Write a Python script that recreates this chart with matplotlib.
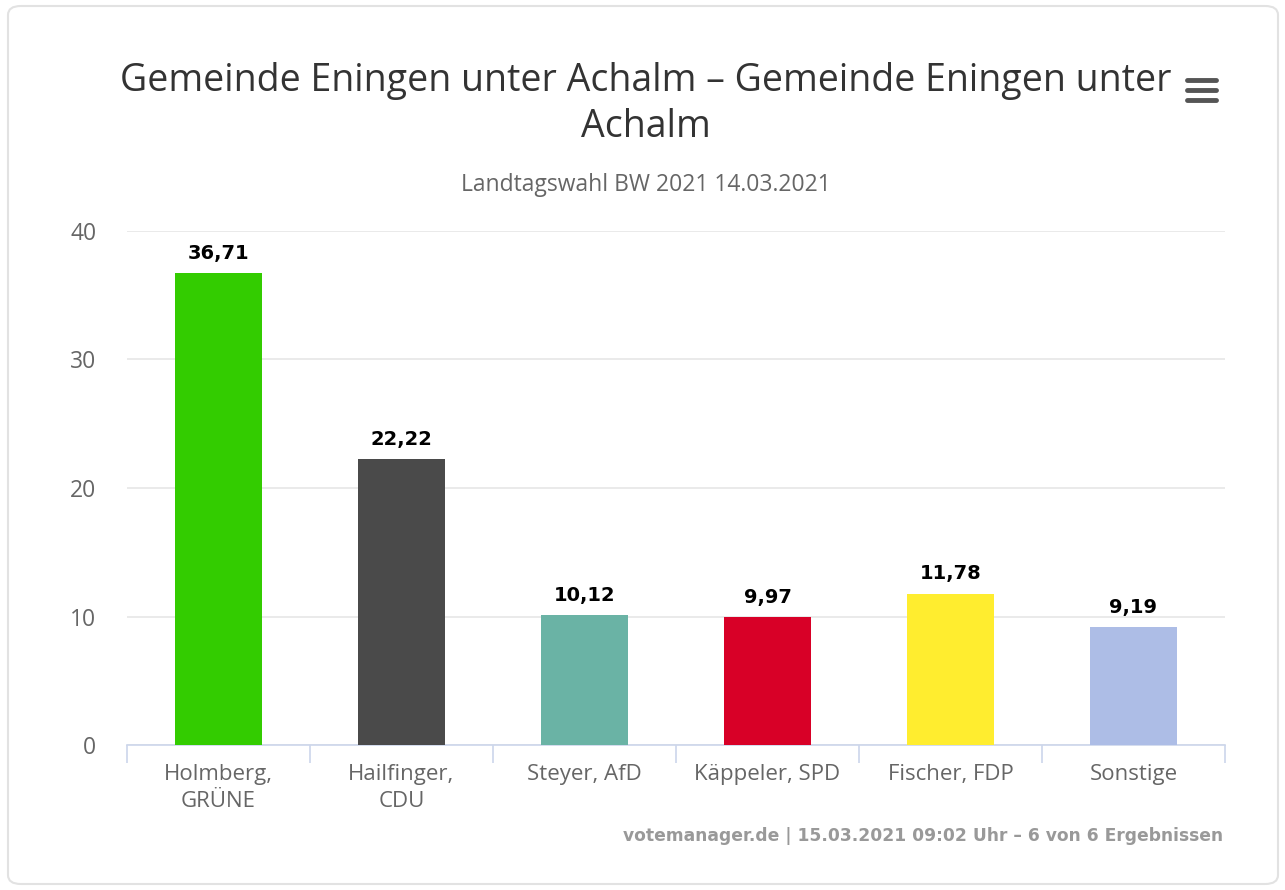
import numpy as np
import matplotlib
matplotlib.use("Agg")
import matplotlib.pyplot as plt
from matplotlib.patches import FancyBboxPatch
from matplotlib.lines import Line2D

# data
kandidaten = ["Holmberg,\nGRÜNE", "Hailfinger,\nCDU", "Steyer, AfD",
              "Käppeler, SPD", "Fischer, FDP", "Sonstige"]
anteile = [36.71, 22.22, 10.12, 9.97, 11.78, 9.19]
farben = ["#33cc00", "#4a4a4a", "#6ab3a5", "#d80027", "#ffed2f", "#adbde6"]
yticks = [0, 10, 20, 30, 40]

titel = "Gemeinde Eningen unter Achalm – Gemeinde Eningen unter\nAchalm"
untertitel = "Landtagswahl BW 2021 14.03.2021"
quelle = "votemanager.de | 15.03.2021 09:02 Uhr – 6 von 6 Ergebnissen"

plt.rcParams['font.family'] = ['Open Sans', 'DejaVu Sans']

fig = plt.figure(figsize=(12.85, 8.9), dpi=100)
fig.patch.set_facecolor("white")

# card border
box = FancyBboxPatch((8/1285, 6/890), 1270/1285, 878/890,
                     boxstyle="round,pad=0,rounding_size=0.01",
                     transform=fig.transFigure, facecolor="white",
                     edgecolor="#e2e2e2", linewidth=1.5, zorder=-10)
fig.add_artist(box)

ax = fig.add_axes([127/1285, 1 - 745/890, (1225 - 127)/1285, (745 - 231)/890])
ax.patch.set_alpha(0)
x = np.arange(len(kandidaten))
bars = ax.bar(x, anteile, width=0.48, color=farben, zorder=3)

for xi, v in zip(x, anteile):
    ax.text(xi, v + 0.8, f"{v:.2f}".replace(".", ","), ha="center", va="bottom",
            fontsize=14, fontweight="bold", color="black", zorder=4,
            family="DejaVu Sans")

ax.set_xlim(-0.5, len(kandidaten) - 0.5)
ax.set_ylim(0, 40)
ax.set_yticks(yticks)
ax.set_yticklabels([str(t) for t in yticks], fontsize=16.5, color="#666666")
ax.tick_params(axis="y", length=0, pad=22)
ax.grid(axis="y", color="#e6e6e6", linewidth=1.2, zorder=0)

ax.set_xticks(x)
ax.set_xticklabels(kandidaten, fontsize=16, color="#666666", linespacing=1.35)
ax.tick_params(axis="x", length=0, pad=14)
# category boundary ticks
ax.set_xticks(np.arange(-0.5, len(kandidaten)), minor=True)
ax.tick_params(axis="x", which="minor", length=13, color="#ccd6eb", width=1.2)

for s in ["top", "right", "left"]:
    ax.spines[s].set_visible(False)
ax.spines["bottom"].set_color("#ccd6eb")
ax.spines["bottom"].set_linewidth(1.2)

fig.text(646/1285, 1 - 104/890, titel, ha="center", va="center",
         fontsize=27, color="#333333", linespacing=1.25)
fig.text(646/1285, 1 - 185/890, untertitel, ha="center", va="center",
         fontsize=16.5, color="#666666")
fig.text(1223/1285, 1 - 836/890, quelle, ha="right", va="center",
         fontsize=12.3, fontweight="bold", color="#999999", family="DejaVu Sans")

# menu icon
for yy in [80, 90, 100]:
    fig.add_artist(Line2D([1187/1285, 1216/1285], [1 - yy/890, 1 - yy/890],
                          transform=fig.transFigure, color="#555555",
                          linewidth=3.5, solid_capstyle="round"))

fig.savefig("out.png", dpi=100, facecolor="white")
